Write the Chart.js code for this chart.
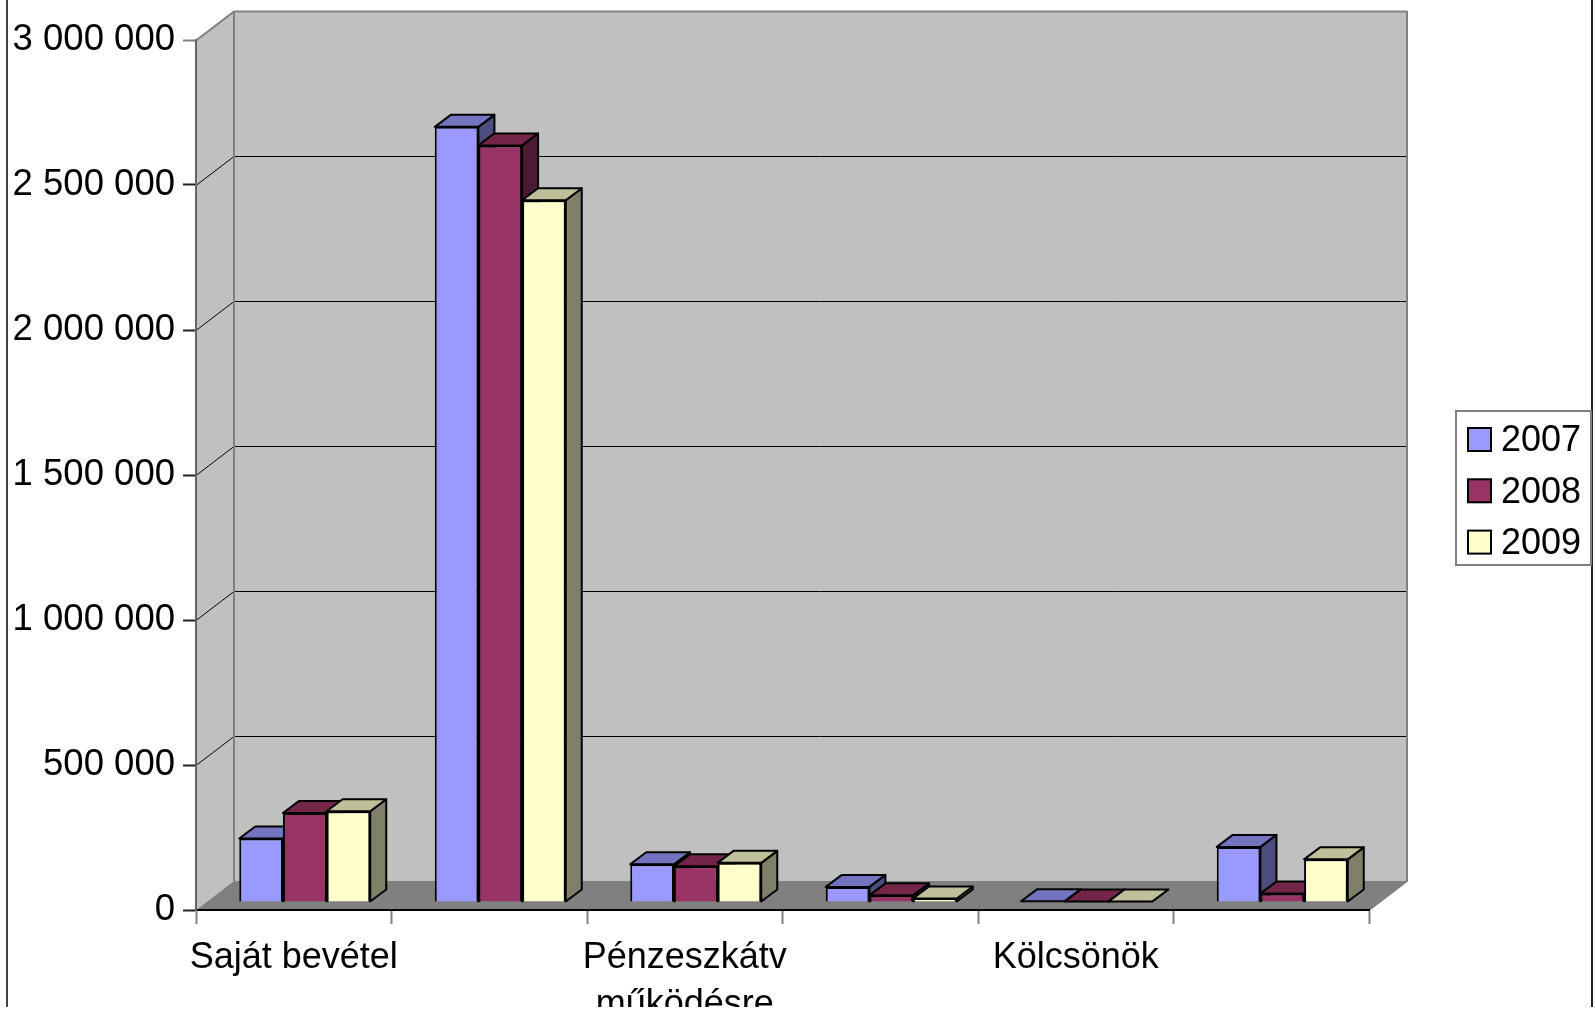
<!DOCTYPE html>
<html lang="hu">
<head>
<meta charset="utf-8">
<title>Bevételek 2007-2009</title>
<script src="https://cdn.jsdelivr.net/npm/chart.js@4"></script>
<style>
  html, body { margin: 0; background: #fff; }
  canvas { display: block; }
</style>
</head>
<body>
<canvas id="chartBevetel" width="1595" height="1007"></canvas>
<script>
/* ─── Adatok ─────────────────────────────────────── */
const categories = ['Saját bevétel', '', ['Pénzeszkátv', 'működésre'], '', 'Kölcsönök', ''];
const seriesNames = ['2007', '2008', '2009'];
const values2007 = [219000, 2673000, 130000, 52000, 3000, 190000];
const values2008 = [307000, 2609000, 123000, 23000, 2000, 29000];
const values2009 = [313000, 2420000, 135000, 12000, 1500, 147000];
const yTicks = ['0', '500 000', '1 000 000', '1 500 000', '2 000 000', '2 500 000', '3 000 000'];

/* ─── Színek ─────────────────────────────────────── */
const FRONT = ['#9999FF', '#993366', '#FFFFCC'];
const TOP = ['#7373BF', '#732649', '#BFBF99'];
const SIDE = ['#4D4D80', '#4D1A33', '#80806A'];
const FONT = "'Liberation Sans', Arial, sans-serif";

/* ─── 3D mélység ─────────────────────────────────── */
const WALL = { dx: 38, dy: 29 };     // a hátsó fal eltolása
const BAR_SHIFT = { dx: 11, dy: 8 }; // oszlopok a padlón
const BAR_DEPTH = { dx: 16, dy: 12 };

const poly = (ctx, pts, fill, stroke, lw) => {
  ctx.beginPath();
  pts.forEach((p, i) => (i ? ctx.lineTo(p[0], p[1]) : ctx.moveTo(p[0], p[1])));
  ctx.closePath();
  if (fill) { ctx.fillStyle = fill; ctx.fill(); }
  if (stroke) { ctx.strokeStyle = stroke; ctx.lineWidth = lw; ctx.stroke(); }
};

const line = (ctx, pts, color, lw) => {
  ctx.beginPath();
  pts.forEach((p, i) => (i ? ctx.lineTo(p[0], p[1]) : ctx.moveTo(p[0], p[1])));
  ctx.strokeStyle = color;
  ctx.lineWidth = lw;
  ctx.stroke();
};

/* Keret, falak, padló, rácsvonalak */
const wallsPlugin = {
  id: 'walls',
  beforeDraw(chart) {
    const { ctx, chartArea: a, scales: { y } } = chart;
    const bx = a.left + WALL.dx, rx = a.right + WALL.dx;
    const backTop = a.top - WALL.dy, backBottom = a.bottom - WALL.dy;
    ctx.save();
    line(ctx, [[7, 0], [7, chart.height]], '#444', 2);
    line(ctx, [[1592, 0], [1592, chart.height]], '#222', 2);
    poly(ctx, [[bx, backTop], [rx, backTop], [rx, backBottom], [bx, backBottom]], '#C0C0C0');
    poly(ctx, [[a.left, a.top], [bx, backTop], [bx, backBottom], [a.left, a.bottom]], '#C0C0C0');
    poly(ctx, [[a.left, a.bottom], [bx, backBottom], [rx, backBottom], [a.right, a.bottom]], '#808080');
    y.ticks.forEach(t => {
      if (t.value === 0) return;
      const top = t.value === y.max;
      const py = Math.round(y.getPixelForValue(t.value)) + 0.5;
      line(ctx, [[a.left, py], [bx, py - WALL.dy], [rx, py - WALL.dy]], top ? '#808080' : '#000', top ? 2 : 1);
    });
    line(ctx, [[bx, backTop], [bx, backBottom]], '#808080', 2);
    line(ctx, [[rx, backTop], [rx, backBottom], [a.right, a.bottom]], '#808080', 2);
    ctx.restore();
  },
  /* Oszlopok teteje és oldala, az elejét a Chart.js rajzolja */
  beforeDatasetsDraw(chart) {
    const { ctx } = chart;
    ctx.save();
    ctx.translate(BAR_SHIFT.dx, -BAR_SHIFT.dy);
    const { dx, dy } = BAR_DEPTH;
    for (let i = 0; i < categories.length; i++) {
      chart.data.datasets.forEach((ds, d) => {
        const bar = chart.getDatasetMeta(d).data[i];
        const l = bar.x - bar.width / 2, r = bar.x + bar.width / 2;
        ctx.lineJoin = 'round';
        poly(ctx, [[r, bar.y], [r + dx, bar.y - dy], [r + dx, bar.base - dy], [r, bar.base]], SIDE[d], '#000', 2);
        poly(ctx, [[l, bar.y], [l + dx, bar.y - dy], [r + dx, bar.y - dy], [r, bar.y]], TOP[d], '#000', 2);
      });
    }
  },
  afterDatasetsDraw(chart) {
    chart.ctx.restore();
  },
  /* Jelmagyarázat */
  afterDraw(chart) {
    const { ctx } = chart;
    ctx.save();
    ctx.fillStyle = '#fff';
    ctx.fillRect(1456, 411, 135, 154);
    ctx.strokeStyle = '#808080';
    ctx.lineWidth = 2;
    ctx.strokeRect(1456, 411, 135, 154);
    ctx.font = '36px ' + FONT;
    ctx.textBaseline = 'middle';
    seriesNames.forEach((name, i) => {
      const cy = 439.5 + i * 51.3;
      ctx.fillStyle = FRONT[i];
      ctx.fillRect(1468, cy - 11.5, 23, 23);
      ctx.strokeStyle = '#000';
      ctx.strokeRect(1468, cy - 11.5, 23, 23);
      ctx.fillStyle = '#000';
      ctx.fillText(name, 1501, cy + 2);
    });
    ctx.restore();
  },
};

new Chart(document.getElementById('chartBevetel'), {
  type: 'bar',
  data: {
    labels: categories,
    datasets: [values2007, values2008, values2009].map((data, d) => ({
      label: seriesNames[d],
      data,
      backgroundColor: FRONT[d],
      borderColor: '#000',
      borderWidth: 2,
      categoryPercentage: 0.67,
      barPercentage: 1,
      clip: false,
    })),
  },
  options: {
    responsive: false,
    animation: false,
    layout: { padding: { top: 40, right: 226, bottom: 0, left: 0 } },
    plugins: {
      legend: { display: false },
      tooltip: { enabled: false },
    },
    scales: {
      x: {
        afterFit(s) { s.height = 97; s.paddingLeft = 0; s.paddingRight = 0; },
        grid: { drawOnChartArea: false, tickLength: 14, tickColor: '#808080', tickWidth: 2 },
        border: { color: '#000', width: 2 },
        ticks: {
          autoSkip: false,
          maxRotation: 0,
          padding: 11,
          color: '#000',
          font: { family: FONT, size: 36, lineHeight: 1.3 },
        },
      },
      y: {
        min: 0,
        max: 3000000,
        afterFit(s) { s.width = 196; s.paddingTop = 0; s.paddingBottom = 0; },
        grid: {
          drawOnChartArea: false,
          tickLength: 13,
          tickColor: ctx => (ctx.tick && ctx.tick.value === 3000000 ? '#808080' : '#222'),
          tickWidth: 2,
        },
        border: { color: '#666', width: 2 },
        ticks: {
          stepSize: 500000,
          padding: 8,
          color: '#000',
          font: { family: FONT, size: 36.5 },
          callback: (v, i) => yTicks[i],
        },
      },
    },
  },
  plugins: [wallsPlugin],
});
</script>
</body>
</html>
